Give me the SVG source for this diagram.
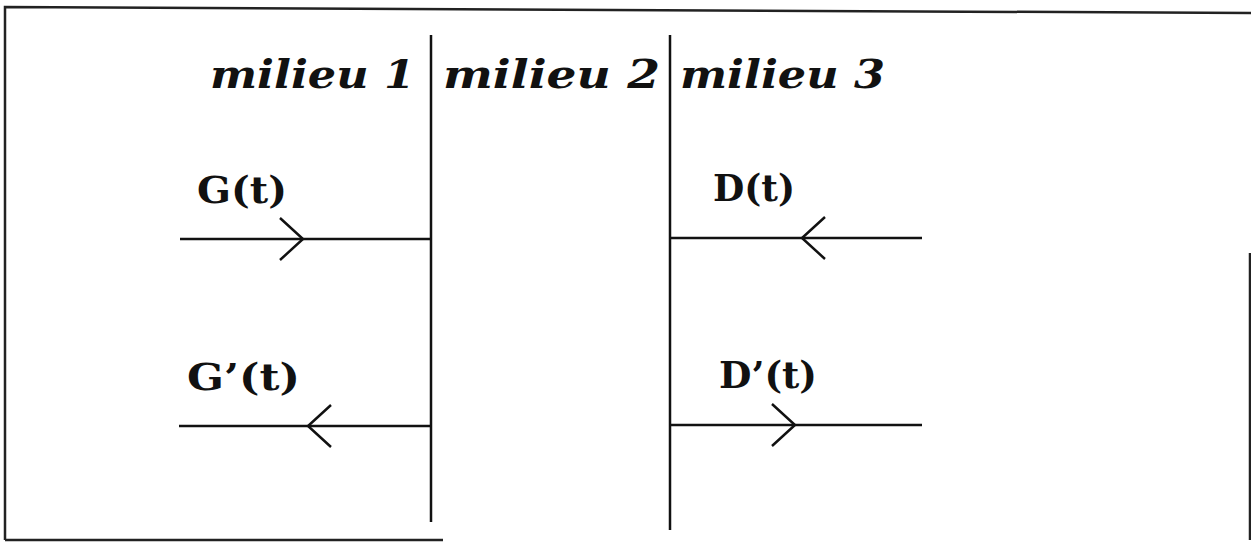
<svg xmlns="http://www.w3.org/2000/svg" width="1251" height="542" viewBox="0 0 1251 542">
<style>
.frame{fill:none;stroke:#222;stroke-width:2.5}
.wall{fill:none;stroke:#111;stroke-width:2.5}
.wave{fill:none;stroke:#111;stroke-width:2.5}
.medium{font-family:"DejaVu Serif","Liberation Serif",serif;font-style:italic;font-weight:bold;font-size:40px;fill:#111}
.sig{font-family:"DejaVu Serif","Liberation Serif",serif;font-weight:bold;font-size:37px;fill:#111}
</style>
<defs>
<marker id="chev" markerUnits="userSpaceOnUse" viewBox="-30 -25 35 50" markerWidth="35" markerHeight="50" refX="0" refY="0" orient="auto" overflow="visible">
<path d="M-23,-21 L0,0 L-23,21" fill="none" stroke="#111" stroke-width="2.5"/>
</marker>
</defs>
<rect width="1251" height="542" fill="#fff"/>
<g id="frame">
<path class="frame" d="M5,540 L5,7 L1251,13"/>
<path class="frame" d="M5,540 L443,540"/>
<path class="frame" d="M1250,253 L1250,540"/>
</g>
<g id="interfaces">
<line class="wall" x1="431" y1="35" x2="431" y2="522"/>
<line class="wall" x1="670" y1="35" x2="670" y2="530"/>
</g>
<g id="milieu1"><text class="medium" x="210" y="88" textLength="205" lengthAdjust="spacingAndGlyphs">milieu  1</text></g>
<g id="milieu2"><text class="medium" x="443" y="88" textLength="217" lengthAdjust="spacingAndGlyphs">milieu  2</text></g>
<g id="milieu3"><text class="medium" x="680" y="88" textLength="205" lengthAdjust="spacingAndGlyphs">milieu  3</text></g>
<g id="G"><text class="sig" x="197" y="203" textLength="90" lengthAdjust="spacingAndGlyphs">G(t)</text></g>
<g id="D"><text class="sig" x="713" y="201" textLength="82" lengthAdjust="spacingAndGlyphs">D(t)</text></g>
<g id="Gp"><text class="sig" x="187" y="390" textLength="113" lengthAdjust="spacingAndGlyphs">G’(t)</text></g>
<g id="Dp"><text class="sig" x="719" y="388" textLength="98" lengthAdjust="spacingAndGlyphs">D’(t)</text></g>
<g id="connectors">
<path class="wave" d="M180,239 L303,239 L431,239" marker-mid="url(#chev)"/>
<path class="wave" d="M922,238 L802,238 L671,238" marker-mid="url(#chev)"/>
<path class="wave" d="M431,426 L308,426 L179,426" marker-mid="url(#chev)"/>
<path class="wave" d="M671,425 L795,425 L922,425" marker-mid="url(#chev)"/>
</g>
</svg>
